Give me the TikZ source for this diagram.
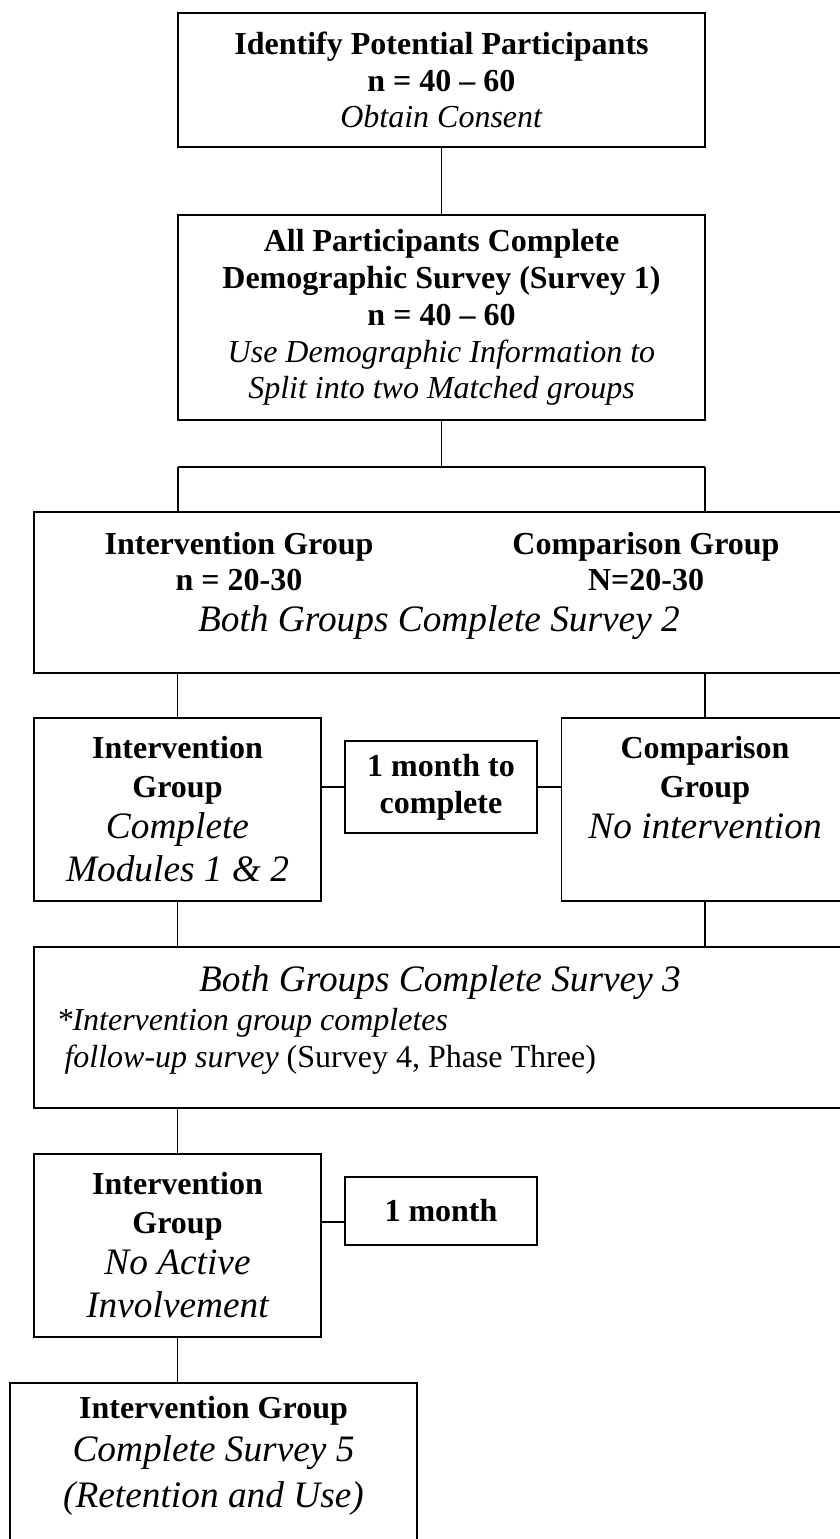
\documentclass[tikz,border=0pt]{standalone}
\usepackage{fontspec}
\setmainfont{Liberation Serif}
\usetikzlibrary{calc}

\newcommand{\bigit}[1]{{\fontsize{14}{16.1}\selectfont\itshape #1}}

\tikzset{
  box/.style={draw, line width=0.65pt, inner sep=0pt, align=center,
    font=\fontsize{12}{13.8}\selectfont},
  txt/.style={inner sep=0pt, align=center, font=\fontsize{12}{13.8}\selectfont},
  link/.style={line width=0.45pt}
}

\begin{document}
\begin{tikzpicture}[x=0.375pt, y=-0.375pt]
    % Page frame
    \useasboundingbox (0,0) rectangle (840,1539);
    \clip (0,0) rectangle (840,1539);

    % Boxes
    \node[box, minimum width=197.6pt, minimum height=50.25pt] (ident) at (441.5,80)
      {\textbf{Identify Potential Participants}\\ \textbf{n = 40 – 60}\\ \textit{Obtain Consent}};
    \node[box, minimum width=197.6pt, minimum height=76.9pt] (demo) at (441.5,317.5)
      {\textbf{All Participants Complete}\\ \textbf{Demographic Survey (Survey 1)}\\
       \textbf{n = 40 – 60}\\ \textit{Use Demographic Information to}\\ \textit{Split into two Matched groups}};
    \node[box, minimum width=303.75pt, minimum height=60.4pt] (groups) at (439,592.5) {};
    \node[box, minimum width=107.6pt, minimum height=68.6pt] (intMod) at (177.5,809.5)
      {\textbf{Intervention}\\[0.7pt] \textbf{Group}\\[1.5pt] \bigit{Complete}\\[2.5pt] \bigit{Modules 1 \& 2}};
    \node[box, minimum width=72pt, minimum height=34.5pt] (waitA) at (441,787)
      {\textbf{1 month to}\\ \textbf{complete}};
    \node[box, minimum width=107.6pt, minimum height=68.6pt] (cmpNone) at (705,809.5)
      {\textbf{Comparison}\\[0.7pt] \textbf{Group}\\[1.5pt] \bigit{No intervention}\\[2.5pt] \bigit{\vphantom{Modules 1}}};
    \node[box, minimum width=303.75pt, minimum height=60.4pt] (survey3) at (439,1027.5) {};
    \node[box, minimum width=107.6pt, minimum height=68.6pt] (intIdle) at (177.5,1245.5)
      {\textbf{Intervention}\\[0.7pt] \textbf{Group}\\[1.5pt] \bigit{No Active}\\[2.5pt] \bigit{Involvement}};
    \node[box, minimum width=72pt, minimum height=25.5pt] (waitB) at (441,1211)
      {\textbf{1 month}};
    \node[box, minimum width=152.6pt, minimum height=81.4pt] (retention) at (213.5,1491.5) {};

    % Texts of the wide boxes
    \node[txt] (groupsInt) at (239,561.5) {\textbf{Intervention Group}\\ \textbf{n = 20-30}};
    \node[txt] (groupsCmp) at (646,561.5) {\textbf{Comparison Group}\\ \textbf{N=20-30}};
    \node[txt] (groupsBoth) at (439,623) {\bigit{Both Groups Complete Survey 2}};
    \node[txt] (s3Both) at (440,983) {\bigit{Both Groups Complete Survey 3}};
    \node[txt, align=left, anchor=west] (s3Note) at (56,1041)
      {\textit{*Intervention group completes}\\ \ \textit{follow-up survey} (Survey 4, Phase Three)};
    \node[txt] (retentionTxt) at (213.5,1456)
      {\textbf{Intervention Group}\\[2.5pt] \bigit{Complete Survey 5}\\[3.5pt] \bigit{(Retention and Use)}};

    % Split point
    \coordinate (split) at (441.5,467);
    \coordinate (splitL) at (178,467);
    \coordinate (splitR) at (705,467);
    \coordinate (waitBL) at ($(waitB.west)+(0,11)$);

    % Connectors
    \draw[link] (ident) -- (demo);
    \draw[link] (demo) -- (split);
    \draw[link] (splitL) -- (splitR);
    \draw[link] (splitL) -- (splitL |- groups.north);
    \draw[link] (splitR) -- (splitR |- groups.north);
    \draw[link] (intMod.north) -- (intMod.north |- groups.south);
    \draw[link] (cmpNone.north) -- (cmpNone.north |- groups.south);
    \draw[link] (waitA.west) -- (waitA.west -| intMod.east);
    \draw[link] (waitA.east) -- (waitA.east -| cmpNone.west);
    \draw[link] (intMod.south) -- (intMod.south |- survey3.north);
    \draw[link] (cmpNone.south) -- (cmpNone.south |- survey3.north);
    \draw[link] (intIdle.north) -- (intIdle.north |- survey3.south);
    \draw[link] (waitBL) -- (waitBL -| intIdle.east);
    \draw[link] (intIdle.south) -- (intIdle.south |- retention.north);
\end{tikzpicture}
\end{document}
